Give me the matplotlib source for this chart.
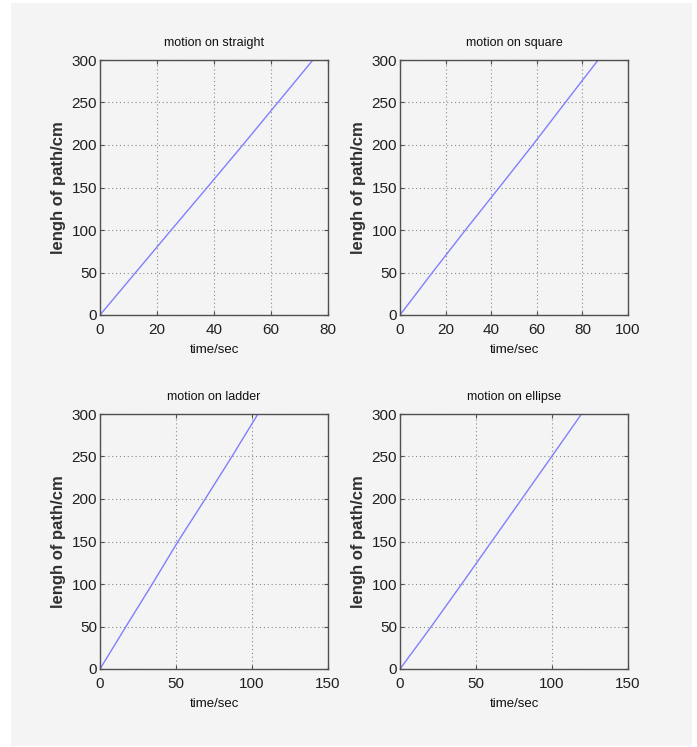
import numpy as np
import matplotlib.pyplot as plt
from matplotlib.patches import Rectangle

# path length (cm) read at each grid line, and the time (s) it was reached
path_len = [0, 50, 100, 150, 200, 250, 300]
t_straight = [0, 12.5, 25.0, 37.6, 50.1, 62.4, 74.7]
t_square = [0, 14.2, 28.7, 43.5, 58.2, 72.5, 86.9]
t_ladder = [0, 17.1, 34.4, 51.3, 69.2, 86.8, 103.9]
t_ellipse = [0, 20.6, 40.6, 60.3, 80.1, 99.8, 119.4]

titles = ["motion on straight", "motion on square", "motion on ladder", "motion on ellipse"]
x_limits = [80, 100, 150, 150]
x_ticks = [[0, 20, 40, 60, 80], [0, 20, 40, 60, 80, 100], [0, 50, 100, 150], [0, 50, 100, 150]]
y_ticks = [0, 50, 100, 150, 200, 250, 300]

W, H = 697, 747
bg = '#f4f4f4'
sans = ['Liberation Sans', 'DejaVu Sans']

fig = plt.figure(figsize=(W / 100, H / 100), dpi=100, facecolor='white')
panel = Rectangle((11 / W, 1 - 746 / H), 681 / W, 743 / H, transform=fig.transFigure,
                  facecolor=bg, edgecolor='none', zorder=-10)
fig.add_artist(panel)

# axes boxes in pixels: left, top, right, bottom
boxes = [(100, 60, 328, 315), (400, 60, 628, 315), (100, 414, 328, 669), (400, 414, 628, 669)]
times = [t_straight, t_square, t_ladder, t_ellipse]

for box, t, title, xmax, xt in zip(boxes, times, titles, x_limits, x_ticks):
    l, tp, r, b = box
    ax = fig.add_axes([l / W, 1 - b / H, (r - l) / W, (b - tp) / H])
    ax.set_facecolor(bg)
    ax.plot(t, path_len, color='#7f7fff', linewidth=1)
    ax.set_xlim(0, xmax)
    ax.set_ylim(0, 300)
    ax.set_xticks(xt)
    ax.set_yticks(y_ticks)
    ax.grid(True, linestyle=(0, (1, 2.5)), color='#8a8a8a', linewidth=0.8)
    for s in ax.spines.values():
        s.set_color('#505050')
        s.set_linewidth(1.0)
    ax.tick_params(direction='in', length=3, color='#505050', top=True, right=True)
    ax.tick_params(axis='x', pad=6)
    ax.tick_params(axis='y', pad=2)
    for lab in ax.get_xticklabels() + ax.get_yticklabels():
        lab.set_family(sans)
        lab.set_fontsize(11)
        lab.set_color('#202020')
    ax.set_title(title, family=sans, fontsize=9, pad=10, color='#101010')
    ax.set_xlabel("time/sec", family=sans, fontsize=9.5, labelpad=5, color='#101010')
    ax.set_ylabel("lengh of path/cm", family=sans, fontsize=12,
                  fontweight='bold', labelpad=4, color='#303030')

fig.savefig("out.png", dpi=100, facecolor='white')
